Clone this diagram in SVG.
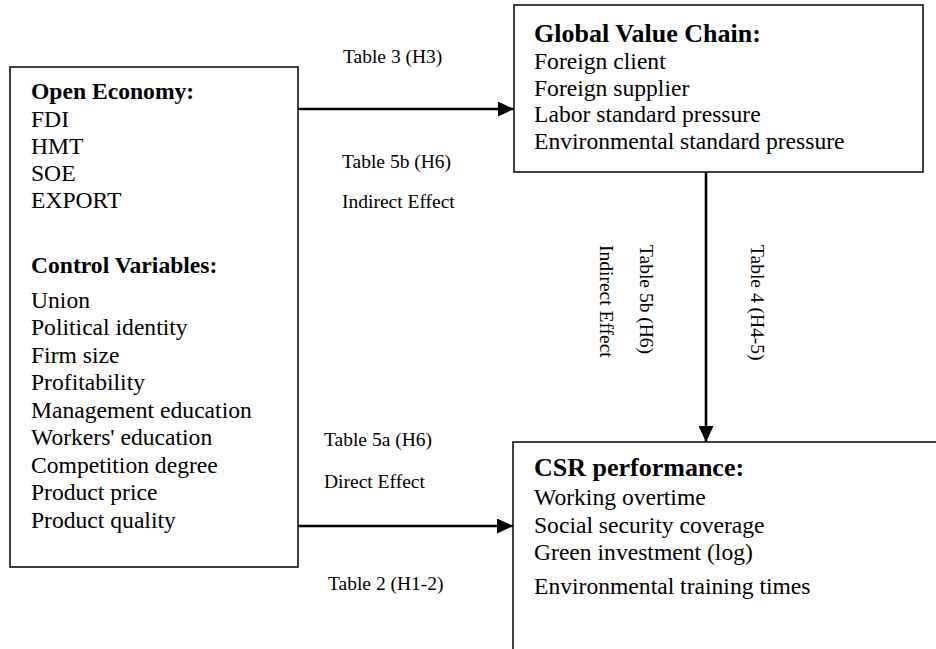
<svg xmlns="http://www.w3.org/2000/svg" width="936" height="649" viewBox="0 0 936 649">
<defs>
<style>
.box{fill:#fff;stroke:#111;stroke-width:1.6}
.t{font-family:"Liberation Serif","Times New Roman",serif;font-size:23.6px;fill:#000}
.h{font-family:"Liberation Serif","Times New Roman",serif;font-size:23.6px;font-weight:bold;fill:#000}
.h2{font-family:"Liberation Serif","Times New Roman",serif;font-size:26px;font-weight:bold;fill:#000}
.lbl{font-family:"Liberation Serif","Times New Roman",serif;font-size:19.5px;fill:#000}
.conn{stroke:#000;stroke-width:2.6;fill:none;marker-end:url(#arr)}
</style>
<marker id="arr" markerUnits="userSpaceOnUse" markerWidth="17" markerHeight="15" refX="16" refY="7.5" orient="auto">
<path d="M0,0 L16,7.5 L0,15 Z" fill="#000"/>
</marker>
</defs>
<rect width="936" height="649" fill="#fff"/>

<g id="open-economy">
<rect class="box" x="10" y="67" width="288" height="500"/>
<text class="h" x="31" y="99">Open Economy:</text>
<text class="t" x="31" y="127">FDI</text>
<text class="t" x="31" y="154">HMT</text>
<text class="t" x="31" y="181">SOE</text>
<text class="t" x="31" y="208">EXPORT</text>
<text class="h" x="31" y="273">Control Variables:</text>
<text class="t" x="31" y="308">Union</text>
<text class="t" x="31" y="335">Political identity</text>
<text class="t" x="31" y="363">Firm size</text>
<text class="t" x="31" y="390">Profitability</text>
<text class="t" x="31" y="418">Management education</text>
<text class="t" x="31" y="445">Workers' education</text>
<text class="t" x="31" y="473">Competition degree</text>
<text class="t" x="31" y="500">Product price</text>
<text class="t" x="31" y="528">Product quality</text>
</g>

<g id="global-value-chain">
<rect class="box" x="514" y="5" width="409" height="167"/>
<text class="h2" x="534" y="42">Global Value Chain:</text>
<text class="t" x="534" y="69">Foreign client</text>
<text class="t" x="534" y="96">Foreign supplier</text>
<text class="t" x="534" y="122">Labor standard pressure</text>
<text class="t" x="534" y="149">Environmental standard pressure</text>
</g>

<g id="csr-performance">
<rect class="box" x="513" y="442" width="440" height="230"/>
<text class="h2" x="534" y="476">CSR performance:</text>
<text class="t" x="534" y="505">Working overtime</text>
<text class="t" x="534" y="533">Social security coverage</text>
<text class="t" x="534" y="560">Green investment (log)</text>
<text class="t" x="534" y="594">Environmental training times</text>
</g>

<g id="connectors">
<line class="conn" x1="298" y1="109" x2="514" y2="109"/>
<line class="conn" x1="298" y1="526" x2="513" y2="526"/>
<line class="conn" x1="706" y1="172" x2="706" y2="442"/>
<text class="lbl" x="343" y="63">Table 3 (H3)</text>
<text class="lbl" x="342" y="168">Table 5b (H6)</text>
<text class="lbl" x="342" y="208">Indirect Effect</text>
<text class="lbl" x="324" y="446">Table 5a (H6)</text>
<text class="lbl" x="324" y="488">Direct Effect</text>
<text class="lbl" x="328" y="590">Table 2 (H1-2)</text>
<text class="lbl" transform="translate(640,245) rotate(90)">Table 5b (H6)</text>
<text class="lbl" transform="translate(600,245) rotate(90)">Indirect Effect</text>
<text class="lbl" transform="translate(751,245) rotate(90)">Table 4 (H4-5)</text>
</g>
</svg>
